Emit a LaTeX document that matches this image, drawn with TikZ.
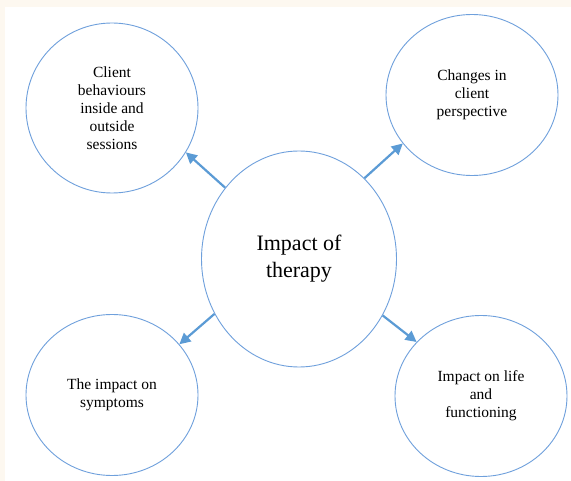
\documentclass[tikz,border=0pt]{standalone}
\usepackage{fontspec}
\setmainfont{Liberation Serif}
\usetikzlibrary{positioning,shapes.geometric,arrows.meta}
\definecolor{ringblue}{HTML}{6FA0DC}
\definecolor{arrowblue}{HTML}{5B9BD5}
\definecolor{cream}{HTML}{FDF8F0}

\begin{document}
\begin{tikzpicture}[x=1pt,y=1pt,on grid,
  topic/.style={ellipse,draw=ringblue,line width=0.9pt,inner sep=0pt,
    minimum width=172pt,minimum height=161pt,align=center,
    font=\fontsize{15.5}{18}\selectfont},
  hub/.style={ellipse,draw=ringblue,line width=0.9pt,inner sep=0pt,
    minimum width=195pt,minimum height=216pt,align=center,
    font=\fontsize{22}{27}\selectfont},
  impact/.style={-{Triangle[length=11pt,width=11pt]},draw=arrowblue,line width=2.2pt}]
  % page
  \fill[cream] (0,0) rectangle (571,-481);
  \fill[white] (5,-7) rectangle (571,-481);
  \useasboundingbox (0,0) rectangle (571,-481);
  % circles
  \node[hub] (T) at (299,-259) {Impact of\\therapy};
  \node[topic,minimum height=170pt] (B) [above left=151pt and 187pt of T]
    {Client\\behaviours\\inside and\\outside\\sessions};
  \node[topic] (P) [above right=164pt and 173pt of T] {Changes in\\client\\perspective};
  \node[topic] (S) [below left=136pt and 187pt of T] {The impact on\\symptoms};
  \node[topic] (L) [below right=137pt and 182pt of T] {Impact on life\\and\\functioning};
  % arrows
  \path[every edge/.append style=impact]
    (T.136) edge (B.-31)
    (T.51)  edge (P.-145)
    (T.213) edge (S.37)
    (T.-34) edge (L.140);
\end{tikzpicture}
\end{document}
